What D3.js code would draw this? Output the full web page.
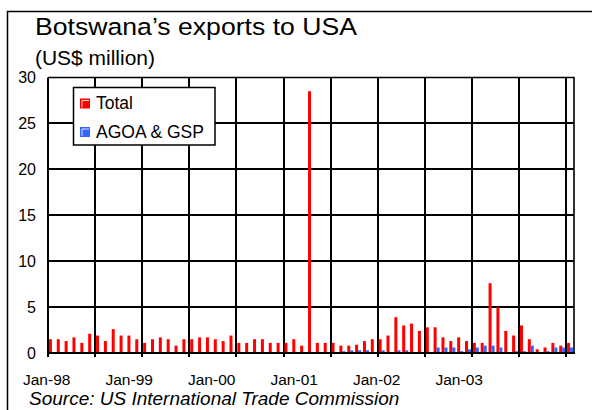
<!DOCTYPE html>
<html>
<head>
<meta charset="utf-8">
<script src="https://cdn.jsdelivr.net/npm/d3@7"></script>
<style>
  body { margin: 0; background: #fff; }
  svg { display: block; }
  text { font-family: "Liberation Sans", Arial, sans-serif; fill: #000; }
  .grid line { stroke: #000; stroke-width: 1.6px; shape-rendering: crispEdges; }
</style>
</head>
<body>
<svg id="chart" width="592" height="410"></svg>
<script>
// Monthly categories, Jan 1998 – Jul 2003
const months = [
  "1998-01","1998-02","1998-03","1998-04","1998-05","1998-06","1998-07","1998-08","1998-09","1998-10","1998-11","1998-12",
  "1999-01","1999-02","1999-03","1999-04","1999-05","1999-06","1999-07","1999-08","1999-09","1999-10","1999-11","1999-12",
  "2000-01","2000-02","2000-03","2000-04","2000-05","2000-06","2000-07","2000-08","2000-09","2000-10","2000-11","2000-12",
  "2001-01","2001-02","2001-03","2001-04","2001-05","2001-06","2001-07","2001-08","2001-09","2001-10","2001-11","2001-12",
  "2002-01","2002-02","2002-03","2002-04","2002-05","2002-06","2002-07","2002-08","2002-09","2002-10","2002-11","2002-12",
  "2003-01","2003-02","2003-03","2003-04","2003-05","2003-06","2003-07"
];

// Total exports to the USA, US$ million
const total = [
  1.5, 1.5, 1.3, 1.7, 1.1, 2.1, 1.9, 1.3, 2.6, 1.9, 1.9, 1.5,
  1.1, 1.5, 1.7, 1.5, 0.8, 1.5, 1.5, 1.7, 1.7, 1.5, 1.3, 1.9,
  1.1, 1.1, 1.5, 1.5, 1.1, 1.1, 1.1, 1.5, 0.8, 28.5, 1.1, 1.1,
  1.1, 0.8, 0.8, 0.9, 1.3, 1.5, 1.5, 1.9, 3.9, 3.0, 3.2, 2.4,
  2.8, 2.8, 1.7, 1.3, 1.7, 1.3, 1.1, 1.1, 7.6, 5.0, 2.4, 1.9,
  3.0, 1.5, 0.4, 0.6, 1.1, 0.8, 1.1
];

// Exports entering under AGOA & GSP, US$ million
const agoa = [
  0, 0, 0, 0, 0, 0, 0, 0, 0, 0, 0, 0,
  0, 0, 0, 0, 0, 0, 0, 0, 0, 0, 0, 0,
  0, 0, 0, 0, 0, 0, 0, 0, 0, 0, 0, 0,
  0, 0.2, 0.3, 0.3, 0.3, 0, 0.3, 0, 0.3, 0.3, 0, 0,
  0, 0.6, 0.6, 0.6, 0.2, 0.4, 0.6, 0.8, 0.8, 0.6, 0, 0.2,
  0.2, 0.8, 0, 0.2, 0.6, 0.6, 0.6
];

const seriesNames = ["Total", "AGOA & GSP"];
const seriesColors = ["#ff0000", "#3366ff"];
const tickLabels = ["Jan-98", "Jan-99", "Jan-00", "Jan-01", "Jan-02", "Jan-03"];
const yTicks = [0, 5, 10, 15, 20, 25, 30];

const svg = d3.select("#chart");
const plot = { left: 48, right: 574, top: 77.5, bottom: 353 };

// Outer frame
svg.append("rect")
  .attr("x", 7.5).attr("y", 11.5).attr("width", 600).attr("height", 420)
  .attr("fill", "#fff").attr("stroke", "#000").attr("stroke-width", 1.5);

// Titles
svg.append("text").attr("x", 35).attr("y", 35)
  .attr("textLength", 322).attr("lengthAdjust", "spacingAndGlyphs")
  .style("font-size", "24.5px").text("Botswana\u2019s exports to USA");
svg.append("text").attr("x", 35).attr("y", 65)
  .attr("textLength", 120).attr("lengthAdjust", "spacingAndGlyphs")
  .style("font-size", "20px").text("(US$ million)");

const x = d3.scaleBand().domain(months).range([plot.left, plot.right]).padding(0);
const inner = d3.scaleBand().domain(seriesNames).range([0, x.bandwidth()])
  .paddingInner(0).paddingOuter(0.31);
const y = d3.scaleLinear().domain([0, 30]).range([plot.bottom, plot.top]);

const grid = svg.append("g").attr("class", "grid");

// Horizontal gridlines at each value tick
grid.selectAll("line.h")
  .data(yTicks.slice(1, -1))
  .join("line").attr("class", "h")
  .attr("x1", plot.left).attr("x2", plot.right)
  .attr("y1", d => Math.round(y(d))).attr("y2", d => Math.round(y(d)));

// Vertical gridlines every six months, with short ticks below the axis
const gridMonths = months.filter((m, i) => i > 0 && i % 6 === 0);
grid.selectAll("line.v")
  .data(gridMonths)
  .join("line").attr("class", "v")
  .attr("x1", d => Math.round(x(d))).attr("x2", d => Math.round(x(d)))
  .attr("y1", plot.top).attr("y2", plot.bottom + 4);

// Plot border (top / right)
svg.append("path")
  .attr("d", `M${plot.left},${plot.top}H${plot.right}V${plot.bottom}`)
  .attr("fill", "none").attr("stroke", "#000").attr("stroke-width", 1.6);

// Bars
const rows = months.map((m, i) => ({ m, vals: [total[i], agoa[i]] }));
const groups = svg.append("g").selectAll("g")
  .data(rows).join("g")
  .attr("transform", d => `translate(${x(d.m)},0)`);
groups.selectAll("rect")
  .data(d => d.vals.map((v, k) => ({ k, v })).filter(e => e.v > 0))
  .join("rect")
  .attr("x", e => inner(seriesNames[e.k]))
  .attr("width", inner.bandwidth())
  .attr("y", e => y(e.v))
  .attr("height", e => y(0) - y(e.v))
  .attr("fill", e => seriesColors[e.k]);

// Axis lines
svg.append("line")
  .attr("x1", plot.left).attr("x2", plot.right + 1)
  .attr("y1", plot.bottom).attr("y2", plot.bottom)
  .attr("stroke", "#000").attr("stroke-width", 2.2);
svg.append("line")
  .attr("x1", plot.left).attr("x2", plot.left)
  .attr("y1", plot.top).attr("y2", plot.bottom + 4)
  .attr("stroke", "#000").attr("stroke-width", 2);

// Y tick labels
svg.append("g").selectAll("text")
  .data(yTicks).join("text")
  .attr("x", 36).attr("y", d => y(d))
  .attr("dy", "0.36em")
  .attr("text-anchor", "end")
  .style("font-size", "16px")
  .text(d => d);

// X tick labels, spread evenly under the axis
const xl = d3.scalePoint().domain(tickLabels).range([46.7, 459.2]);
svg.append("g").selectAll("text")
  .data(tickLabels).join("text")
  .attr("x", d => xl(d)).attr("y", 385)
  .attr("text-anchor", "middle")
  .style("font-size", "15.5px")
  .text(d => d);

// Source note
svg.append("text").attr("x", 29).attr("y", 405)
  .style("font-size", "19px").style("font-style", "italic")
  .text("Source: US International Trade Commission");

// Legend
const lg = svg.append("g");
lg.append("rect").attr("x", 73.5).attr("y", 87.5).attr("width", 141.5).attr("height", 57.5)
  .attr("fill", "#fff").attr("stroke", "#000").attr("stroke-width", 1.5);
seriesNames.forEach((name, i) => {
  const yy = 98.5 + i * 28.5;
  lg.append("rect").attr("x", 80).attr("y", yy).attr("width", 10).attr("height", 10)
    .attr("fill", seriesColors[i]);
  lg.append("path").attr("d", `M82,${yy + 9}V${yy + 2}H89`)
    .attr("fill", "none").attr("stroke", "#fff").attr("stroke-width", 1).attr("opacity", 0.8);
  lg.append("text").attr("x", 96).attr("y", yy + 10.5)
    .style("font-size", "17.5px").text(name);
});
</script>
</body>
</html>
